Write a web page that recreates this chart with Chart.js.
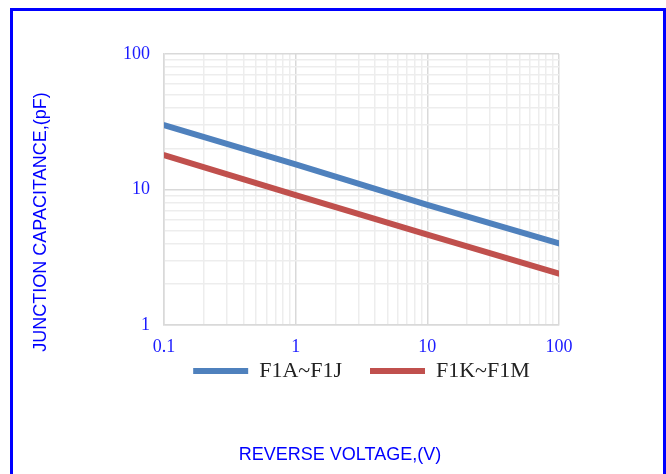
<!DOCTYPE html>
<html>
<head>
<meta charset="utf-8">
<script src="https://cdn.jsdelivr.net/npm/chart.js@4/dist/chart.umd.min.js"></script>
<style>
  body { margin: 0; background: #fff; overflow: hidden; }
  #frame { position: absolute; left: 10px; top: 8px; width: 650px; height: 480px; border: 3px solid #0000ff; }
  #wrap { position: absolute; left: 0; top: 0; width: 666px; height: 474px; }
</style>
</head>
<body>
<div id="frame"></div>
<div id="wrap"><canvas id="capChart" width="666" height="474"></canvas></div>
<script>
// reverse voltage (V)
const voltage = [0.1, 1, 10, 100];
// junction capacitance (pF)
const capF1AtoF1J = [29.8, 15.3, 7.7, 4.0];
const capF1KtoF1M = [17.9, 9.1, 4.64, 2.39];
const seriesNames = ['F1A~F1J', 'F1K~F1M'];
const xDecades = [0.1, 1, 10, 100];
const yDecades = [1, 10, 100];
const xTitle = 'REVERSE VOLTAGE,(V)';
const yTitle = 'JUNCTION CAPACITANCE,(pF)';

function isDecade(v) {
    const l = Math.log10(v);
    return Math.abs(l - Math.round(l)) < 1e-9;
}

// 1..9 gridlines in each decade
function logTicks(decades) {
    const out = [];
    for (let i = 0; i < decades.length - 1; i++) {
        for (let m = 1; m < 10; m++) out.push({ value: +(decades[i] * m).toPrecision(6) });
    }
    out.push({ value: decades[decades.length - 1] });
    return out;
}

function gridColor(ctx) {
    return isDecade(ctx.tick.value) ? '#d9d9d9' : '#ededed';
}

const axisTitles = {
    id: 'axisTitles',
    afterDraw(chart) {
        const ctx = chart.ctx;
        ctx.save();
        ctx.fillStyle = '#0000ff';
        ctx.textAlign = 'center';
        ctx.textBaseline = 'middle';
        ctx.font = '18px "Liberation Sans", Arial, sans-serif';
        ctx.fillText(xTitle, 340, 455);
        ctx.translate(41, 222);
        ctx.rotate(-Math.PI / 2);
        ctx.fillText(yTitle, 0, 0);
        ctx.restore();
    }
};

// legend padding is wide for the gap between items; pull it back up under the axis
const legendShift = {
    id: 'legendShift',
    afterLayout(chart) {
        chart.legend.top -= 23;
        chart.legend.bottom -= 23;
    }
};

const tickFont = { family: '"Liberation Serif", "DejaVu Serif", serif', size: 18 };

const capChart = new Chart(document.getElementById('capChart').getContext('2d'), {
    type: 'line',
    data: {
        labels: voltage,
        datasets: [{
            label: seriesNames[0],
            data: voltage.map((v, i) => ({ x: v, y: capF1AtoF1J[i] })),
            borderColor: '#4f81bd',
            backgroundColor: '#4f81bd',
            borderWidth: 6,
            borderCapStyle: 'round',
            pointRadius: 0,
            tension: 0
        }, {
            label: seriesNames[1],
            data: voltage.map((v, i) => ({ x: v, y: capF1KtoF1M[i] })),
            borderColor: '#c0504d',
            backgroundColor: '#c0504d',
            borderWidth: 6,
            borderCapStyle: 'round',
            pointRadius: 0,
            tension: 0
        }]
    },
    options: {
        responsive: false,
        animation: false,
        devicePixelRatio: 1,
        layout: {
            padding: { left: 0, top: 54, right: 107, bottom: 59 }
        },
        scales: {
            x: {
                type: 'logarithmic',
                min: 0.1,
                max: 100,
                afterBuildTicks: s => { s.ticks = logTicks(xDecades); },
                afterFit: s => { s.height = 30; },
                grid: { color: gridColor, lineWidth: 1.5, drawTicks: false },
                border: { color: '#d9d9d9', width: 1.5 },
                ticks: {
                    autoSkip: false,
                    maxRotation: 0,
                    padding: 11,
                    color: '#1a1aff',
                    font: tickFont,
                    callback: v => (isDecade(v) && xDecades.includes(+v.toPrecision(6))) ? String(+v.toPrecision(6)) : ''
                }
            },
            y: {
                type: 'logarithmic',
                min: 1,
                max: 100,
                afterBuildTicks: s => { s.ticks = logTicks(yDecades); },
                afterFit: s => { s.width = 164; },
                grid: { color: gridColor, lineWidth: 1.5, drawTicks: false },
                border: { color: '#d9d9d9', width: 1.5 },
                ticks: {
                    autoSkip: false,
                    padding: 14,
                    color: '#1a1aff',
                    font: tickFont,
                    callback: v => (isDecade(v) && yDecades.includes(+v.toPrecision(6))) ? String(+v.toPrecision(6)) : ''
                }
            }
        },
        plugins: {
            legend: {
                position: 'bottom',
                fullSize: false,
                labels: {
                    usePointStyle: true,
                    pointStyle: 'line',
                    pointStyleWidth: 55,
                    padding: 28,
                    color: '#222222',
                    font: { family: '"Liberation Serif", "DejaVu Serif", serif', size: 22 }
                }
            },
            tooltip: { enabled: false }
        }
    },
    plugins: [axisTitles, legendShift]
});
</script>
</body>
</html>
